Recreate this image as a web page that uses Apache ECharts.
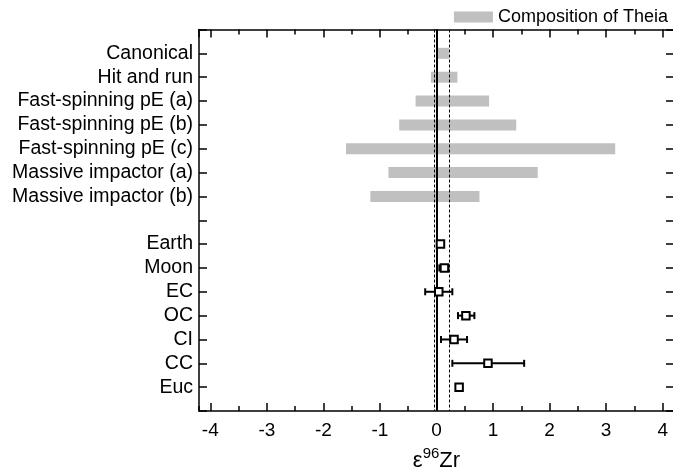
<!DOCTYPE html>
<html>
<head>
<meta charset="utf-8">
<script src="https://cdn.jsdelivr.net/npm/echarts@6/dist/echarts.min.js"></script>
<style>
html,body{margin:0;padding:0;background:#fff;}
#chart{width:673px;height:471px;}
</style>
</head>
<body>
<div id="chart"></div>
<script>
// ---- data ----
const scenarios = ['Canonical', 'Hit and run', 'Fast-spinning pE (a)', 'Fast-spinning pE (b)', 'Fast-spinning pE (c)', 'Massive impactor (a)', 'Massive impactor (b)'];
const theiaLow  = [0.01, -0.10, -0.37, -0.66, -1.60, -0.85, -1.17];
const theiaHigh = [0.22, 0.37, 0.93, 1.41, 3.16, 1.79, 0.76];

const samples    = ['Earth', 'Moon', 'EC', 'OC', 'CI', 'CC', 'Euc'];
const sampleMean = [0.07, 0.14, 0.04, 0.52, 0.31, 0.91, 0.40];
const sampleLow  = [0.03, 0.05, -0.20, 0.38, 0.08, 0.28, 0.36];
const sampleHigh = [0.11, 0.21, 0.28, 0.67, 0.54, 1.55, 0.44];

const refSolid  = 0;
const refDotted = [-0.035, 0.225];

const xMin = -4.2, xMax = 4.2;
const xTickLabels = ['-4', '-3', '-2', '-1', '0', '1', '2', '3', '4'];

const legendName = 'Composition of Theia';

// categories: blank slot at top, between groups, and at bottom
const categories = [''].concat(scenarios, [''], samples, ['']);
const scenarioOffset = 1;
const sampleOffset = scenarios.length + 2;

const FONT = "'Liberation Sans', Arial, sans-serif";
const GRAY = '#c0c0c0';

const barData = scenarios.map((s, i) => [theiaLow[i], theiaHigh[i], i + scenarioOffset]);
const errData = samples.map((s, i) => [sampleLow[i], sampleHigh[i], i + sampleOffset]);
const ptData  = samples.map((s, i) => [sampleMean[i], i + sampleOffset]);

function xAxisBase(pos, major, withLabels) {
  return {
    type: 'value', position: pos,
    min: xMin, max: xMax, splitNumber: major ? 8 : 16,
    splitLine: { show: false },
    axisLine: { show: major, onZero: false, lineStyle: { color: '#000', width: 1.5 } },
    axisTick: { show: true, inside: true, length: major ? 8 : 5, lineStyle: { color: '#000', width: 1.5 } },
    axisLabel: withLabels ? {
      show: true, fontSize: 19, color: '#000', fontFamily: FONT, margin: 10,
      showMinLabel: false, showMaxLabel: false,
      formatter: v => {
        const s = String(Math.round(v));
        return (Math.abs(v - Math.round(v)) < 1e-9 && xTickLabels.indexOf(s) >= 0) ? s : '';
      }
    } : { show: false }
  };
}

const xMain = xAxisBase('bottom', true, true);
xMain.name = '{a|ε}{s|96}{a|Zr}';
xMain.nameLocation = 'middle';
xMain.nameGap = 35;
xMain.nameTextStyle = {
  color: '#000', fontFamily: FONT,
  rich: {
    a: { fontSize: 22, fontFamily: FONT, color: '#000', verticalAlign: 'bottom', lineHeight: 26 },
    s: { fontSize: 15, fontFamily: FONT, color: '#000', verticalAlign: 'top', lineHeight: 26 }
  }
};

function yAxisBase(pos, withLabels) {
  return {
    type: 'category', position: pos, inverse: true, boundaryGap: false,
    data: categories,
    axisLine: { show: true, onZero: false, lineStyle: { color: '#000', width: 1.5 } },
    axisTick: { show: true, inside: true, length: 8, interval: 0, lineStyle: { color: '#000', width: 1.5 } },
    axisLabel: withLabels ? { show: true, interval: 0, fontSize: 19.5, color: '#000', fontFamily: FONT, margin: 6 } : { show: false },
    splitLine: { show: false }
  };
}

const option = {
  animation: false,
  backgroundColor: '#fff',
  textStyle: { fontFamily: FONT },
  grid: { left: 199, right: -1, top: 29.5, bottom: 60, containLabel: false, outerBoundsMode: 'none' },
  legend: {
    right: 0, top: 3, itemWidth: 39, itemHeight: 11, itemGap: 8, selectedMode: false,
    textStyle: { fontSize: 18, color: '#000', fontFamily: FONT },
    data: [{ name: legendName, icon: 'rect', itemStyle: { color: GRAY } }]
  },
  xAxis: [
    xMain,
    xAxisBase('bottom', false, false),
    xAxisBase('top', true, false),
    xAxisBase('top', false, false)
  ],
  yAxis: [yAxisBase('left', true), yAxisBase('right', false)],
  series: [
    {
      name: legendName, type: 'custom', xAxisIndex: 0, yAxisIndex: 0, z: 2,
      encode: { x: [0, 1], y: 2 },
      data: barData,
      renderItem: function (params, api) {
        const p0 = api.coord([api.value(0), api.value(2)]);
        const p1 = api.coord([api.value(1), api.value(2)]);
        const h = 11;
        return { type: 'rect', shape: { x: p0[0], y: p0[1] - h / 2, width: p1[0] - p0[0], height: h }, style: { fill: GRAY } };
      }
    },
    {
      name: 'refs', type: 'line', xAxisIndex: 0, yAxisIndex: 0, data: [], z: 3,
      markLine: {
        silent: true, symbol: ['none', 'none'], label: { show: false }, animation: false,
        data: [
          { xAxis: refSolid, lineStyle: { color: '#000', width: 2, type: 'solid' } },
          { xAxis: refDotted[0], lineStyle: { color: '#000', width: 1, type: [3, 2] } },
          { xAxis: refDotted[1], lineStyle: { color: '#000', width: 1, type: [3, 2] } }
        ]
      }
    },
    {
      name: 'err', type: 'custom', xAxisIndex: 0, yAxisIndex: 0, z: 4,
      encode: { x: [0, 1], y: 2 },
      data: errData,
      renderItem: function (params, api) {
        const p0 = api.coord([api.value(0), api.value(2)]);
        const p1 = api.coord([api.value(1), api.value(2)]);
        const c = 3.5;
        const st = { stroke: '#000', lineWidth: 2 };
        return {
          type: 'group', children: [
            { type: 'line', shape: { x1: p0[0], y1: p0[1], x2: p1[0], y2: p1[1] }, style: st },
            { type: 'line', shape: { x1: p0[0], y1: p0[1] - c, x2: p0[0], y2: p0[1] + c }, style: st },
            { type: 'line', shape: { x1: p1[0], y1: p1[1] - c, x2: p1[0], y2: p1[1] + c }, style: st }
          ]
        };
      }
    },
    {
      name: 'samples', type: 'scatter', xAxisIndex: 0, yAxisIndex: 0, z: 5,
      symbol: 'rect', symbolSize: 7.5,
      itemStyle: { color: '#fff', borderColor: '#000', borderWidth: 2, opacity: 1 },
      data: ptData
    }
  ]
};

const chart = echarts.init(document.getElementById('chart'), null, { renderer: 'canvas' });
chart.setOption(option);
</script>
</body>
</html>
